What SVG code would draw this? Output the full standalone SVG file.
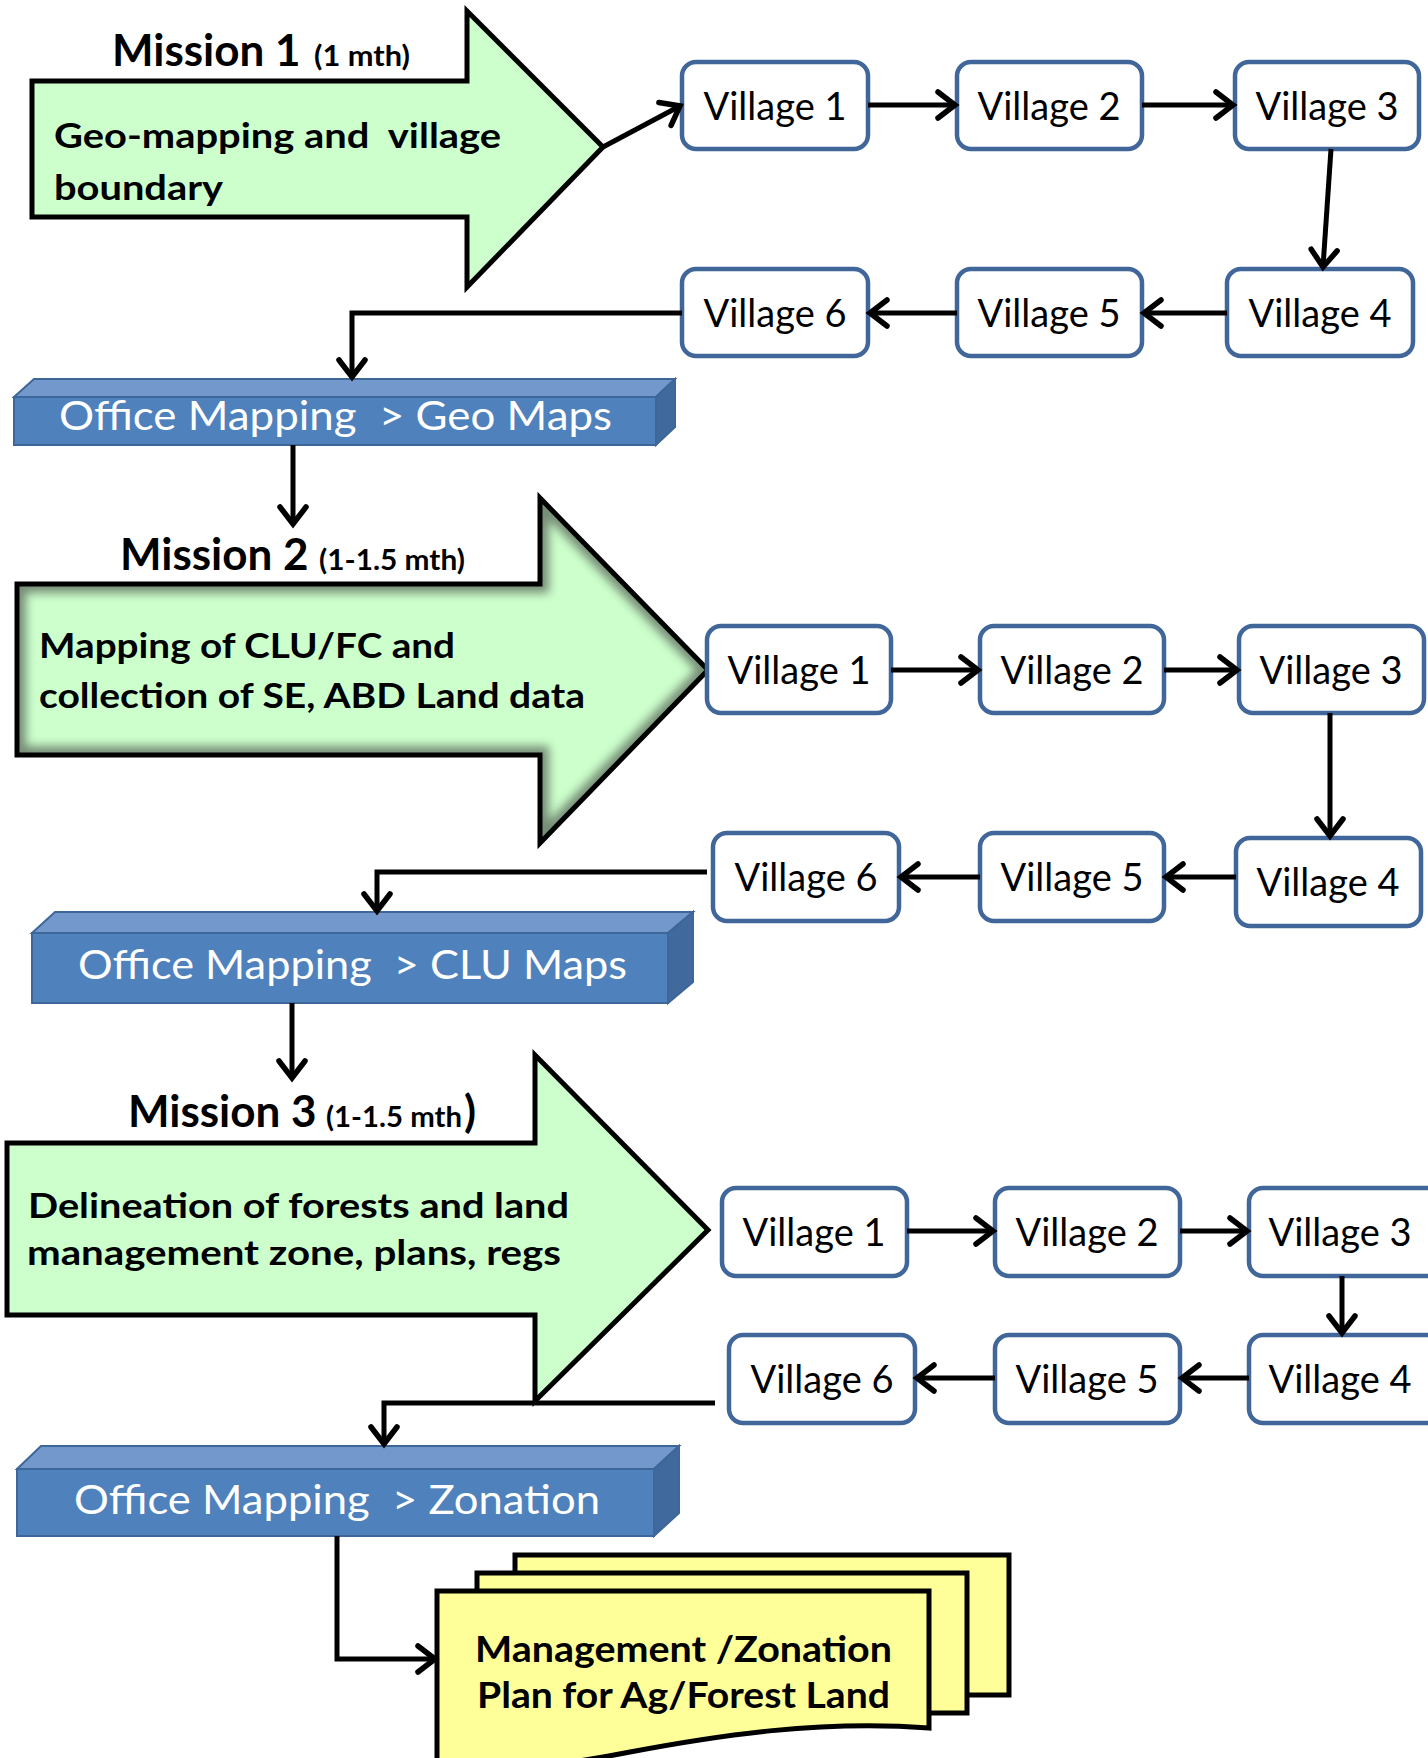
<svg xmlns="http://www.w3.org/2000/svg" width="1428" height="1758" viewBox="0 0 1428 1758">
<defs>
<style>
.arrowbig{fill:#CCFFCC;stroke:#000;stroke-width:5;stroke-linejoin:miter}
.vbox{fill:#fff;stroke:#41679A;stroke-width:4.5}
.vt{font-family:Lato,"Open Sans",sans-serif;font-size:38px;fill:#000;text-anchor:middle}
.mt{font-family:Lato,"Open Sans",sans-serif;font-weight:bold;font-size:44px;fill:#000}
.ms{font-size:28px}
.bt{font-family:Lato,"Open Sans",sans-serif;font-weight:bold;font-size:35px;fill:#000;white-space:pre}
.front{fill:#4F81BD;stroke:#3D6699;stroke-width:2}
.top{fill:#7399CC;stroke:#3D6699;stroke-width:2}
.side{fill:#40699D;stroke:#3D6699;stroke-width:2}
.ot{font-family:Lato,"Open Sans",sans-serif;font-size:41px;fill:#fff;white-space:pre}
.doc{fill:#FFFF99;stroke:#000;stroke-width:5}
.dt{font-family:Lato,"Open Sans",sans-serif;font-weight:bold;font-size:37px;fill:#000}
.con{fill:none;stroke:#000;stroke-width:5;marker-end:url(#ah)}
</style>
<marker id="ah" markerUnits="userSpaceOnUse" markerWidth="40" markerHeight="40" refX="0" refY="0" viewBox="-25 -20 40 40" orient="auto" overflow="visible">
<path d="M-17,-13 L0,0 L-17,13" fill="none" stroke="#000" stroke-width="5.5" stroke-linejoin="miter" stroke-linecap="round"/>
</marker>
<clipPath id="m2clip"><path d="M17,584 H540 V498 L708,670 L540,843 V755 H17 Z"/></clipPath>
<filter id="blur" x="-10%" y="-10%" width="120%" height="120%"><feGaussianBlur stdDeviation="5"/></filter>
</defs>

<g id="mission1">
<path class="arrowbig" d="M32,81 H467 V11 L603,147 L467,287 V217 H32 Z"/>
<text class="mt" x="112" y="66">Mission 1</text>
<text class="mt ms" x="314" y="66" textLength="96" lengthAdjust="spacingAndGlyphs">(1 mth)</text>
<text class="bt" x="54" y="148" textLength="447" lengthAdjust="spacingAndGlyphs">Geo-mapping and  village</text>
<text class="bt" x="54" y="200" textLength="169" lengthAdjust="spacingAndGlyphs">boundary</text>
</g>

<g id="mission2">
<path d="M17,584 H540 V498 L708,670 L540,843 V755 H17 Z" fill="#CCFFCC"/>
<g clip-path="url(#m2clip)"><path d="M17,584 H540 V498 L708,670 L540,843 V755 H17 Z" fill="none" stroke="#333" stroke-width="18" opacity="0.55" filter="url(#blur)"/></g>
<path d="M17,584 H540 V498 L708,670 L540,843 V755 H17 Z" fill="none" stroke="#000" stroke-width="5"/>
<text class="mt" x="120" y="570">Mission 2</text>
<text class="mt ms" x="319" y="570" textLength="146" lengthAdjust="spacingAndGlyphs">(1-1.5 mth)</text>
<text class="bt" x="39" y="658" textLength="416" lengthAdjust="spacingAndGlyphs">Mapping of CLU/FC and</text>
<text class="bt" x="39" y="708" textLength="546" lengthAdjust="spacingAndGlyphs">collection of SE, ABD Land data</text>
</g>

<g id="mission3">
<path class="arrowbig" d="M7,1143 H535 V1055 L708,1230 L535,1401 V1315 H7 Z"/>
<text class="mt" x="128" y="1127">Mission 3</text>
<text class="mt ms" x="326" y="1127" textLength="136" lengthAdjust="spacingAndGlyphs">(1-1.5 mth</text>
<text class="mt" x="464" y="1127">)</text>
<text class="bt" x="28" y="1218" textLength="541" lengthAdjust="spacingAndGlyphs">Delineation of forests and land</text>
<text class="bt" x="27" y="1265" textLength="534" lengthAdjust="spacingAndGlyphs">management zone, plans, regs</text>
</g>

<g id="r1v1"><rect class="vbox" x="682" y="62" width="186" height="87" rx="14"/><text class="vt" x="775" y="120">Village 1</text></g>
<g id="r1v2"><rect class="vbox" x="957" y="62" width="185" height="87" rx="14"/><text class="vt" x="1049" y="120">Village 2</text></g>
<g id="r1v3"><rect class="vbox" x="1235" y="62" width="184" height="87" rx="14"/><text class="vt" x="1327" y="120">Village 3</text></g>
<g id="r1v4"><rect class="vbox" x="1227" y="269" width="186" height="87" rx="14"/><text class="vt" x="1320" y="327">Village 4</text></g>
<g id="r1v5"><rect class="vbox" x="957" y="269" width="185" height="87" rx="14"/><text class="vt" x="1049" y="327">Village 5</text></g>
<g id="r1v6"><rect class="vbox" x="682" y="269" width="186" height="87" rx="14"/><text class="vt" x="775" y="327">Village 6</text></g>

<g id="r2v1"><rect class="vbox" x="707" y="626" width="184" height="87" rx="14"/><text class="vt" x="799" y="684">Village 1</text></g>
<g id="r2v2"><rect class="vbox" x="980" y="626" width="184" height="87" rx="14"/><text class="vt" x="1072" y="684">Village 2</text></g>
<g id="r2v3"><rect class="vbox" x="1239" y="626" width="185" height="87" rx="14"/><text class="vt" x="1331" y="684">Village 3</text></g>
<g id="r2v4"><rect class="vbox" x="1236" y="838" width="185" height="88" rx="14"/><text class="vt" x="1328" y="896">Village 4</text></g>
<g id="r2v5"><rect class="vbox" x="980" y="833" width="184" height="88" rx="14"/><text class="vt" x="1072" y="891">Village 5</text></g>
<g id="r2v6"><rect class="vbox" x="713" y="833" width="186" height="88" rx="14"/><text class="vt" x="806" y="891">Village 6</text></g>

<g id="r3v1"><rect class="vbox" x="722" y="1188" width="185" height="88" rx="14"/><text class="vt" x="814" y="1246">Village 1</text></g>
<g id="r3v2"><rect class="vbox" x="995" y="1188" width="185" height="88" rx="14"/><text class="vt" x="1087" y="1246">Village 2</text></g>
<g id="r3v3"><rect class="vbox" x="1249" y="1188" width="200" height="88" rx="14"/><text class="vt" x="1340" y="1246">Village 3</text></g>
<g id="r3v4"><rect class="vbox" x="1249" y="1335" width="200" height="88" rx="14"/><text class="vt" x="1340" y="1393">Village 4</text></g>
<g id="r3v5"><rect class="vbox" x="995" y="1335" width="185" height="88" rx="14"/><text class="vt" x="1087" y="1393">Village 5</text></g>
<g id="r3v6"><rect class="vbox" x="729" y="1335" width="186" height="88" rx="14"/><text class="vt" x="822" y="1393">Village 6</text></g>

<g id="office1">
<polygon class="top" points="14,397 34,379 675,379 656,397"/>
<polygon class="side" points="656,397 675,379 675,427 656,445"/>
<rect class="front" x="14" y="397" width="642" height="48"/>
<text class="ot" x="59" y="430" textLength="553" lengthAdjust="spacingAndGlyphs">Office Mapping  &gt; Geo Maps</text>
</g>
<g id="office2">
<polygon class="top" points="32,933 55,912 693,912 668,933"/>
<polygon class="side" points="668,933 693,912 693,982 668,1003"/>
<rect class="front" x="32" y="933" width="636" height="70"/>
<text class="ot" x="78" y="979" textLength="549" lengthAdjust="spacingAndGlyphs">Office Mapping  &gt; CLU Maps</text>
</g>
<g id="office3">
<polygon class="top" points="17,1469 41,1446 679,1446 654,1469"/>
<polygon class="side" points="654,1469 679,1446 679,1513 654,1536"/>
<rect class="front" x="17" y="1469" width="637" height="67"/>
<text class="ot" x="74" y="1514" textLength="526" lengthAdjust="spacingAndGlyphs">Office Mapping  &gt; Zonation</text>
</g>

<g id="plan">
<rect class="doc" x="515" y="1555" width="494" height="140"/>
<rect class="doc" x="477" y="1573" width="490" height="140"/>
<path class="doc" d="M437,1591 H929 V1728 C820,1720 720,1735 630,1752 C560,1766 500,1772 437,1765 Z"/>
<text class="dt" x="475" y="1662" textLength="417" lengthAdjust="spacingAndGlyphs">Management /Zonation</text>
<text class="dt" x="477" y="1708" textLength="413" lengthAdjust="spacingAndGlyphs">Plan for Ag/Forest Land</text>
</g>

<g id="connectors">
<path class="con" d="M603,147 L680,106"/>
<path class="con" d="M868,105 L955,105"/>
<path class="con" d="M1142,105 L1233,105"/>
<path class="con" d="M1331,149 L1323,267"/>
<path class="con" d="M1227,313 L1144,313"/>
<path class="con" d="M957,313 L870,313"/>
<path class="con" d="M682,313 H352 V377"/>
<path class="con" d="M293,445 V524"/>
<path class="con" d="M891,670 L978,670"/>
<path class="con" d="M1164,670 L1237,670"/>
<path class="con" d="M1330,713 V836"/>
<path class="con" d="M1236,877 L1166,877"/>
<path class="con" d="M980,877 L901,877"/>
<path class="con" d="M707,872 H377 V911"/>
<path class="con" d="M292,1003 V1078"/>
<path class="con" d="M907,1231 L993,1231"/>
<path class="con" d="M1180,1231 L1247,1231"/>
<path class="con" d="M1342,1276 V1333"/>
<path class="con" d="M1249,1378 L1182,1378"/>
<path class="con" d="M995,1378 L917,1378"/>
<path class="con" d="M715,1403 H384 V1444"/>
<path class="con" d="M337,1536 V1659 H435"/>
</g>
</svg>
